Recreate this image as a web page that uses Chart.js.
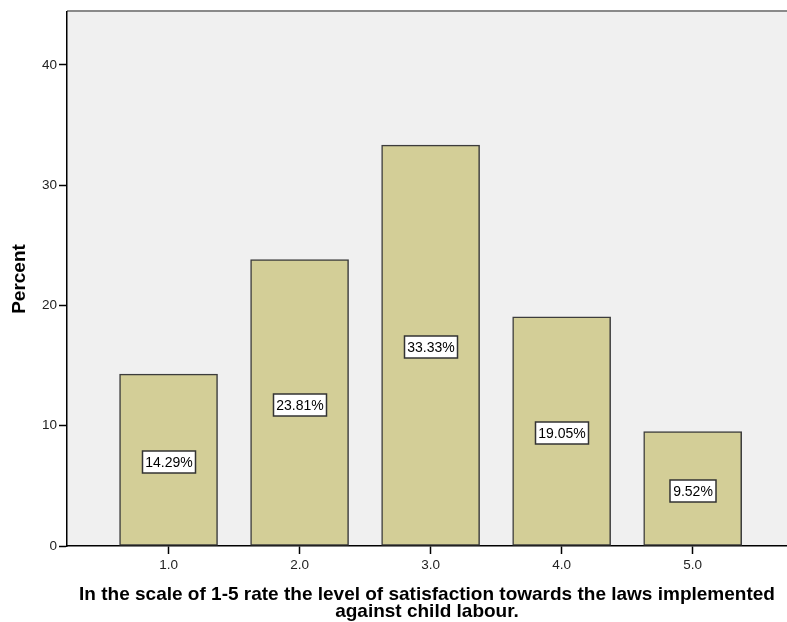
<!DOCTYPE html>
<html lang="en">
<head>
  <meta charset="UTF-8" />
  <title>Satisfaction with child labour laws</title>
  <style>
    body { margin: 0; padding: 0; background: #fff; }
    .chart-box { width: 787px; height: 622px; }
  </style>
</head>
<body>
  <div class="chart-box"><canvas id="satChart"></canvas></div>

  <script src="https://cdn.jsdelivr.net/npm/chart.js"></script>
  <script>
    // --- data ---
    const ratings = [1, 2, 3, 4, 5];
    const percents = [14.29, 23.81, 33.33, 19.05, 9.52];
    const yTicks = [0, 10, 20, 30, 40];
    const xTitle = [
      'In the scale of 1-5 rate the level of satisfaction towards the laws implemented',
      'against child labour.'
    ];
    const yTitle = 'Percent';

    const FONT = '"Liberation Sans", Arial, sans-serif';

    // grey plot background and the thin frame line along the top
    const plotFrame = {
      id: 'plotFrame',
      beforeDraw(chart) {
        const { ctx, chartArea: a } = chart;
        ctx.save();
        ctx.fillStyle = '#f0f0f0';
        ctx.fillRect(a.left, a.top, a.right - a.left, a.bottom - a.top);
        ctx.strokeStyle = '#8a8a8a';
        ctx.lineWidth = 2;
        ctx.beginPath();
        ctx.moveTo(a.left, a.top - 1);
        ctx.lineTo(a.right, a.top - 1);
        ctx.stroke();
        ctx.restore();
      }
    };

    // boxed percentage in the middle of each bar
    const barLabels = {
      id: 'barLabels',
      afterDatasetsDraw(chart) {
        const ctx = chart.ctx;
        const meta = chart.getDatasetMeta(0);
        ctx.save();
        ctx.font = '14px ' + FONT;
        ctx.textAlign = 'center';
        ctx.textBaseline = 'middle';
        meta.data.forEach((bar, i) => {
          const txt = percents[i].toFixed(2) + '%';
          const w = Math.round(ctx.measureText(txt).width) + 6;
          const h = 22;
          const cx = Math.round(bar.x);
          const cy = Math.round((bar.y + bar.base) / 2 + 2);
          ctx.fillStyle = '#fff';
          ctx.fillRect(cx - w / 2, cy - h / 2, w, h);
          ctx.strokeStyle = '#333';
          ctx.lineWidth = 1.5;
          ctx.strokeRect(cx - w / 2, cy - h / 2, w, h);
          ctx.fillStyle = '#000';
          ctx.fillText(txt, cx, cy + 1);
        });
        ctx.restore();
      }
    };

    const ctx = document.getElementById('satChart').getContext('2d');
    new Chart(ctx, {
      type: 'bar',
      data: {
        datasets: [{
          data: ratings.map((r, i) => ({ x: r, y: percents[i] })),
          backgroundColor: '#d3ce97',
          borderColor: '#3c3c3c',
          borderWidth: 1.5,
          borderSkipped: false,
          barThickness: 98
        }]
      },
      options: {
        responsive: true,
        maintainAspectRatio: false,
        devicePixelRatio: 1,
        animation: false,
        layout: { padding: { top: 12, left: 0, right: 0, bottom: 0 } },
        plugins: {
          legend: { display: false },
          tooltip: { enabled: false }
        },
        scales: {
          x: {
            type: 'linear',
            min: 0.225,
            max: 5.72,
            offset: false,
            afterFit(s) { s.height = 76; },
            afterBuildTicks(s) { s.ticks = ratings.map(v => ({ value: v })); },
            grid: { offset: false, drawOnChartArea: false, tickLength: 8, tickColor: '#000', tickWidth: 1.5 },
            border: { color: '#000', width: 1.5 },
            ticks: {
              padding: 3,
              color: '#222',
              font: { family: FONT, size: 13.5 },
              callback: v => Number(v).toFixed(1)
            },
            title: {
              display: true,
              text: xTitle,
              color: '#000',
              font: { family: FONT, size: 19, weight: 'bold', lineHeight: '17px' },
              padding: { top: 0, bottom: 1.5 }
            }
          },
          y: {
            min: 0,
            max: 44.4,
            afterFit(s) { s.width = 67; },
            afterBuildTicks(s) { s.ticks = yTicks.map(v => ({ value: v })); },
            grid: { drawOnChartArea: false, tickLength: 8, tickColor: '#000', tickWidth: 1.5 },
            border: { color: '#000', width: 1.5 },
            ticks: {
              padding: 2,
              color: '#222',
              font: { family: FONT, size: 13.5 }
            },
            title: {
              display: true,
              text: yTitle,
              color: '#000',
              font: { family: FONT, size: 19, weight: 'bold', lineHeight: 1 },
              padding: { top: 10.5, bottom: 0 }
            }
          }
        }
      },
      plugins: [plotFrame, barLabels]
    });
  </script>
</body>
</html>
